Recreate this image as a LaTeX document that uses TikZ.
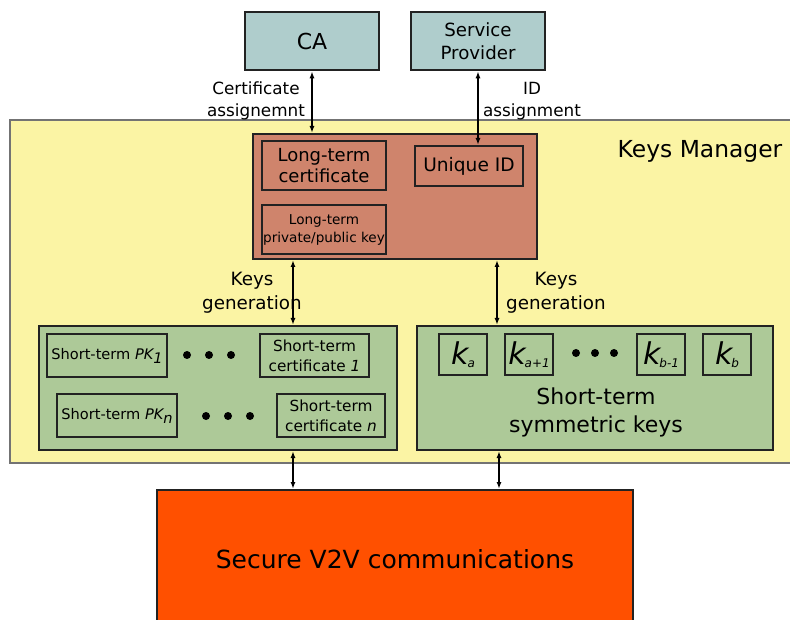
\documentclass[tikz,border=0pt]{standalone}
\usepackage{fontspec}
\setmainfont{DejaVu Sans}
\usetikzlibrary{arrows.meta}
\definecolor{teal}{HTML}{AFCDCC}
\definecolor{yel}{HTML}{FBF4A4}
\definecolor{brn}{HTML}{CF846C}
\definecolor{grn}{HTML}{ADC998}
\definecolor{org}{HTML}{FF5000}
\definecolor{edge}{HTML}{222222}
\newcommand{\fs}[2]{\fontsize{#1pt}{#2pt}\selectfont}
\begin{document}
\begin{tikzpicture}[x=1pt,y=-1pt,
  box/.style={draw=edge,rectangle,inner sep=0pt,align=center},
  thickbox/.style={box,line width=2.6pt},
  midbox/.style={box,line width=2pt},
  arr/.style={line width=1.8pt,{Latex[length=7pt,width=5pt]}-{Latex[length=7pt,width=5pt]}},
  lbl/.style={align=center,inner sep=0pt},
  dot/.style={circle,fill=black,inner sep=0pt,minimum size=8pt}]
\useasboundingbox (0,0) rectangle (790,620);
\clip (0,0) rectangle (790,620);
% top boxes
\node[thickbox,fill=teal,minimum width=134pt,minimum height=58pt,font=\fs{22}{26}] (ca) at (312,41) {CA};
\node[thickbox,fill=teal,minimum width=134pt,minimum height=58pt,font=\fs{18.2}{23}] (sp) at (478,41) {Service\\Provider};
% keys manager
\node[draw=gray!90!black,line width=1.6pt,fill=yel,rectangle,minimum width=800pt,minimum height=343pt,inner sep=0pt] (km) at (410,291.5) {};
\node[lbl,font=\fs{23.4}{28}] (kmt) at (700,151) {Keys Manager};
% brown
\node[midbox,fill=brn,minimum width=284pt,minimum height=125pt] (brown) at (395,196.5) {};
\node[midbox,fill=brn,minimum width=124pt,minimum height=49pt,font=\fs{18}{21}] (ltc) at (324,165.5) {Long-term\\certificate};
\node[midbox,fill=brn,minimum width=108pt,minimum height=40pt,font=\fs{18.6}{22}] (uid) at (469,166) {Unique ID};
\node[midbox,fill=brn,minimum width=124pt,minimum height=49pt,font=\fs{13.6}{18}] (ltk) at (324,229.5) {Long-term\\private/public key};
% labels
\node[lbl,font=\fs{16.8}{22}] (l1) at (256,101) {Certificate\\assignemnt};
\node[lbl,font=\fs{16.8}{22}] (l2) at (532,101) {ID\\assignment};
\node[lbl,font=\fs{18.3}{24}] (l3) at (252,293) {Keys\\generation};
\node[lbl,font=\fs{18.3}{24}] (l4) at (556,293) {Keys\\generation};
% green boxes
\node[midbox,fill=grn,minimum width=358pt,minimum height=124pt] (lg) at (218,388) {};
\node[midbox,fill=grn,minimum width=356pt,minimum height=124pt] (rg) at (595,388) {};
\node[midbox,fill=grn,minimum width=120pt,minimum height=43pt,font=\fs{14.6}{20}] (pk1) at (107,355.5) {Short-term \textit{PK}\kern-1pt\raisebox{-4pt}{\textit{1}}};
\node[midbox,fill=grn,minimum width=109pt,minimum height=43pt,font=\fs{15.3}{20}] (sc1) at (314.5,355.5) {Short-term\\certificate \textit{1}};
\node[midbox,fill=grn,minimum width=120pt,minimum height=43pt,font=\fs{14.6}{20}] (pkn) at (117,415.5) {Short-term \textit{PK}\kern-1pt\raisebox{-4pt}{\textit{n}}};
\node[midbox,fill=grn,minimum width=108pt,minimum height=43pt,font=\fs{15.3}{20}] (scn) at (331,415.5) {Short-term\\certificate \textit{n}};
\node[dot] (d1) at (187,355) {};
\node[dot] (d2) at (209,355) {};
\node[dot] (d3) at (231,355) {};
\node[dot] (d4) at (206,416) {};
\node[dot] (d5) at (228,416) {};
\node[dot] (d6) at (250,416) {};
\node[midbox,fill=grn,minimum width=48pt,minimum height=41pt] (ka) at (463,354.5) {\fs{30}{30}\itshape k\kern-1pt\raisebox{-3pt}{\fs{12}{12}a}};
\node[midbox,fill=grn,minimum width=48pt,minimum height=41pt] (ka1) at (529,354.5) {\fs{30}{30}\itshape k\kern-1pt\raisebox{-3pt}{\fs{12}{12}a+1}};
\node[midbox,fill=grn,minimum width=48pt,minimum height=41pt] (kb1) at (661,354.5) {\fs{30}{30}\itshape k\kern-1pt\raisebox{-3pt}{\fs{12}{12}b-1}};
\node[midbox,fill=grn,minimum width=48pt,minimum height=41pt] (kb) at (727,354.5) {\fs{30}{30}\itshape k\kern-1pt\raisebox{-3pt}{\fs{12}{12}b}};
\node[dot] (d7) at (576,353) {};
\node[dot] (d8) at (595,353) {};
\node[dot] (d9) at (614,353) {};
\node[lbl,font=\fs{22}{28}] (sym) at (596,412) {Short-term\\symmetric keys};
% bottom
\node[midbox,fill=org,minimum width=476pt,minimum height=140pt] (v2v) at (395,560) {};
\node[lbl,font=\fs{25}{30}] (v2vt) at (395,559) {Secure V2V communications};
% arrows
\coordinate (xa) at (293,0);
\coordinate (xb) at (497,0);
\coordinate (xc) at (499,0);
\draw[arr] (ca.south) -- (brown.north -| ca.south);
\draw[arr] (sp.south) -- (uid.north -| sp.south);
\draw[arr] (brown.south -| xa) -- (lg.north -| xa);
\draw[arr] (brown.south -| xb) -- (rg.north -| xb);
\draw[arr] (lg.south -| xa) -- (v2v.north -| xa);
\draw[arr] (rg.south -| xc) -- (v2v.north -| xc);
\end{tikzpicture}
\end{document}
